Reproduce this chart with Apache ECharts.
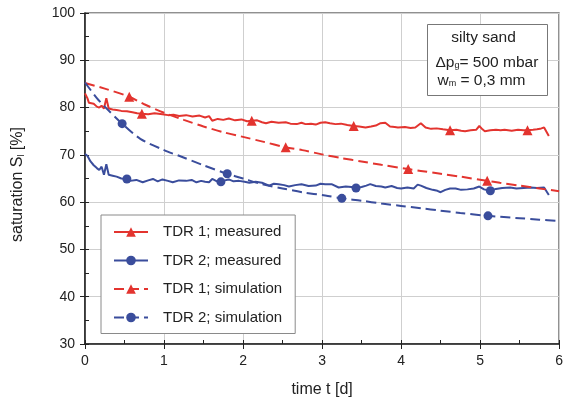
<!DOCTYPE html>
<html><head><meta charset="utf-8">
<script src="https://cdn.jsdelivr.net/npm/echarts@6/dist/echarts.min.js"></script>
<style>html,body{margin:0;padding:0;background:#fff}#c{width:566px;height:403px}</style>
</head><body><div id="c"></div>
<script>
// ---- data ----
const seriesNames = ['TDR 1; measured', 'TDR 2; measured', 'TDR 1; simulation', 'TDR 2; simulation'];

const tdr1MeasT = [0.00,0.03,0.05,0.08,0.11,0.15,0.18,0.21,0.24,0.27,0.30,0.35,0.40,0.46,0.53,0.60,0.66,0.72,0.80,0.88,0.98,1.05,1.12,1.19,1.28,1.36,1.45,1.52,1.57,1.61,1.68,1.75,1.82,1.90,1.98,2.05,2.11,2.18,2.24,2.29,2.36,2.45,2.54,2.60,2.68,2.74,2.79,2.86,2.92,2.98,3.04,3.10,3.17,3.24,3.32,3.40,3.47,3.55,3.62,3.68,3.74,3.80,3.86,3.92,3.96,4.05,4.12,4.18,4.25,4.31,4.38,4.45,4.53,4.62,4.70,4.76,4.81,4.88,4.95,4.99,5.03,5.06,5.13,5.20,5.26,5.31,5.40,5.48,5.55,5.60,5.67,5.72,5.76,5.81,5.87];
const tdr1MeasS = [83.0,82.0,81.0,80.9,80.8,80.2,80.0,80.4,79.8,82.0,79.8,79.6,79.5,79.3,79.2,79.0,78.8,78.7,78.6,78.8,78.6,78.4,78.5,78.2,78.4,78.1,78.3,77.9,78.2,77.2,77.6,77.4,77.7,77.3,77.5,77.1,77.2,77.3,76.9,76.7,77.0,76.8,76.9,76.6,76.5,76.8,76.5,76.6,76.4,76.8,76.9,76.7,76.5,76.6,76.3,76.1,76.0,75.8,76.0,76.2,76.7,76.8,76.0,75.9,75.8,75.9,75.7,75.8,76.7,75.8,75.5,75.6,75.4,75.2,75.3,75.1,75.0,75.2,75.3,76.1,75.4,75.0,75.2,75.3,75.2,75.3,75.1,75.3,75.2,75.2,75.3,75.4,75.5,75.8,74.0];
const tdr1MeasMarks = [0.72,2.11,3.40,4.62,5.60];

const tdr2MeasT = [0.00,0.03,0.07,0.11,0.15,0.18,0.21,0.24,0.27,0.30,0.35,0.40,0.46,0.53,0.57,0.65,0.73,0.80,0.86,0.92,0.98,1.05,1.11,1.19,1.28,1.35,1.41,1.47,1.52,1.57,1.61,1.67,1.72,1.77,1.82,1.88,1.95,2.02,2.08,2.16,2.24,2.33,2.39,2.45,2.52,2.58,2.66,2.74,2.83,2.92,2.98,3.04,3.12,3.21,3.30,3.37,3.43,3.50,3.56,3.61,3.68,3.75,3.80,3.88,3.95,4.00,4.08,4.16,4.21,4.25,4.32,4.40,4.46,4.50,4.56,4.62,4.69,4.76,4.84,4.92,4.99,5.05,5.13,5.20,5.28,5.38,5.46,5.55,5.64,5.72,5.81,5.87];
const tdr2MeasS = [70.2,69.8,68.6,67.8,67.2,66.8,67.5,65.8,68.0,65.8,65.6,65.4,65.0,64.9,64.5,64.7,64.2,64.6,64.9,64.4,64.8,64.5,64.2,64.6,64.5,64.7,64.2,64.5,64.3,64.2,64.9,64.4,64.3,64.6,64.8,64.4,64.5,64.3,64.1,64.3,64.1,63.5,63.9,63.8,63.6,63.3,63.6,63.8,63.4,63.5,63.9,63.8,63.8,63.1,63.3,63.2,63.0,63.2,63.5,63.8,63.4,63.3,63.1,63.4,63.0,62.9,63.1,62.9,63.7,63.5,63.0,62.6,62.4,62.1,62.6,62.9,62.9,62.6,62.7,62.9,63.3,62.7,62.4,62.8,63.0,63.1,62.9,63.0,63.1,63.0,63.1,61.5];
const tdr2MeasMarks = [0.53,1.72,3.43,5.13];

const tdr1SimT = [0,0.25,0.56,0.75,1.0,1.25,1.5,1.75,2.0,2.25,2.54,2.75,3.0,3.25,3.5,3.75,4.09,4.25,4.5,4.75,5.09,5.25,5.5,5.75,6.0];
const tdr1SimS = [85.2,84.0,82.3,80.7,78.9,77.4,76.0,74.8,73.8,72.8,71.6,71.0,70.1,69.3,68.6,67.9,67.0,66.6,66.0,65.4,64.5,64.1,63.5,62.9,62.3];
const tdr1SimMarks = [0.56,2.54,4.09,5.09];

const tdr2SimT = [0,0.15,0.25,0.47,0.7,1.0,1.19,1.5,1.8,2.0,2.24,2.5,2.75,3.04,3.25,3.5,3.75,4.0,4.25,4.5,4.75,5.1,5.5,5.75,6.0];
const tdr2SimS = [85.3,82.0,80.2,76.6,73.4,71.0,69.8,67.8,66.0,65.0,63.8,62.9,62.1,61.4,60.8,60.3,59.7,59.2,58.7,58.2,57.7,57.1,56.6,56.3,56.0];
const tdr2SimMarks = [0.47,1.80,3.25,5.10];

const xMin = 0, xMax = 6, xStep = 1, xMinorStep = 0.5;
const yMin = 30, yMax = 100, yStep = 10, yMinorStep = 5;

// ---- styling ----
const RED = '#e3342f', BLUE = '#3a4d9c';
const FONT = 'Liberation Sans, Arial, sans-serif';

function build(ts, vs, marks) {
  return ts.map((t, i) => marks.includes(t)
    ? { value: [t, vs[i]] }
    : { value: [t, vs[i]], symbol: 'none' });
}

function lineSeries(name, color, dashed, symbol, size, data, smooth) {
  return {
    name, type: 'line', data, smooth: smooth || false,
    xAxisIndex: 0, yAxisIndex: 0,
    symbol, symbolSize: size, showSymbol: true, showAllSymbol: true,
    lineStyle: { color, width: 2, type: dashed ? [10, 5] : 'solid' },
    itemStyle: { color },
    emphasis: { disabled: true },
    animation: false, z: 3
  };
}

const subRich = { fontSize: 9, color: '#222', verticalAlign: 'bottom', padding: [7, 0, 0, 0], fontFamily: FONT };
const ANN_FONT = '15.5px ' + FONT;

const chart = echarts.init(document.getElementById('c'), null, { renderer: 'canvas' });
chart.setOption({
  animation: false,
  textStyle: { fontFamily: FONT },
  grid: { left: 85, right: 4, top: 13, bottom: 57, show: true, borderColor: '#222', borderWidth: 1.2, backgroundColor: 'transparent' },
  xAxis: [{
    type: 'value', min: xMin, max: xMax, interval: xStep,
    name: 'time t [d]', nameLocation: 'middle', nameGap: 38,
    nameTextStyle: { fontSize: 16, color: '#222', fontFamily: FONT },
    axisLine: { lineStyle: { color: '#222', width: 1.5 } },
    axisTick: { show: true, inside: false, length: 5, lineStyle: { color: '#222' } },
    axisLabel: { fontSize: 14, color: '#222', margin: 10, fontFamily: FONT },
    splitLine: { show: true, lineStyle: { color: '#cfcfcf', width: 1 } }
  }, {
    type: 'value', min: xMin, max: xMax, interval: xMinorStep, position: 'bottom',
    axisLine: { show: false }, axisLabel: { show: false }, splitLine: { show: false },
    axisTick: { show: true, inside: true, length: 4, lineStyle: { color: '#222' } }
  }],
  yAxis: [{
    type: 'value', min: yMin, max: yMax, interval: yStep,
    name: 'saturation S{sub|l} [%]', nameLocation: 'middle', nameGap: 59, nameRotate: 90,
    nameTextStyle: { fontSize: 16, color: '#222', fontFamily: FONT, padding: [0, 12, 0, 0], rich: { sub: subRich } },
    axisLine: { show: true, lineStyle: { color: '#222', width: 1.5 } },
    axisTick: { show: true, inside: false, length: 5, lineStyle: { color: '#222' } },
    axisLabel: { fontSize: 14, color: '#222', margin: 10, fontFamily: FONT },
    splitLine: { show: true, lineStyle: { color: '#cfcfcf', width: 1 } }
  }, {
    type: 'value', min: yMin, max: yMax, interval: yMinorStep, position: 'left',
    axisLine: { show: false }, axisLabel: { show: false }, splitLine: { show: false },
    axisTick: { show: true, inside: true, length: 4, lineStyle: { color: '#222' } }
  }],
  legend: {
    orient: 'vertical', left: 101, top: 215,
    padding: [9.5, 13, 8.5, 12], itemGap: 13.5, itemWidth: 34, itemHeight: 12,
    backgroundColor: '#fff', borderColor: '#8a8a8a', borderWidth: 1,
    textStyle: { fontSize: 15, color: '#222', fontFamily: FONT, padding: [0, 0, 0, 10] },
    data: seriesNames, selectedMode: false, z: 20
  },
  graphic: [{
    type: 'group', left: 427, top: 24, z: 100,
    children: [
      { type: 'rect', z: 100, shape: { x: 0, y: 0, width: 120, height: 71 }, style: { fill: '#fff', stroke: '#777', lineWidth: 1 } },
      { type: 'text', z: 101, x: 56, y: 13, style: { text: 'silty sand', fill: '#222', font: ANN_FONT, textAlign: 'center', textVerticalAlign: 'middle' } },
      { type: 'text', z: 101, x: 8, y: 38, style: { text: 'Δp{s|g}= 500 mbar', fill: '#222', font: ANN_FONT, textVerticalAlign: 'middle',
          rich: { s: { fontSize: 9, fill: '#222', verticalAlign: 'bottom', padding: [7, 0, 0, 0] } } } },
      { type: 'text', z: 101, x: 10, y: 56, style: { text: 'w{s|m} = 0,3 mm', fill: '#222', font: ANN_FONT, textVerticalAlign: 'middle',
          rich: { s: { fontSize: 9, fill: '#222', verticalAlign: 'bottom', padding: [7, 0, 0, 0] } } } }
    ]
  }],
  series: [
    lineSeries(seriesNames[0], RED, false, 'triangle', 10, build(tdr1MeasT, tdr1MeasS, tdr1MeasMarks)),
    lineSeries(seriesNames[1], BLUE, false, 'circle', 9, build(tdr2MeasT, tdr2MeasS, tdr2MeasMarks)),
    lineSeries(seriesNames[2], RED, true, 'triangle', 10, build(tdr1SimT, tdr1SimS, tdr1SimMarks), 0.3),
    lineSeries(seriesNames[3], BLUE, true, 'circle', 9, build(tdr2SimT, tdr2SimS, tdr2SimMarks), 0.3)
  ]
});
</script>
</body></html>
